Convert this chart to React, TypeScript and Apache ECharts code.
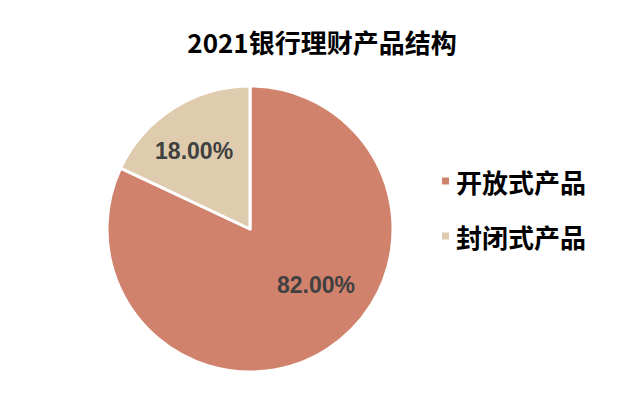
import { useEffect, useRef } from 'react';
import * as echarts from 'echarts';

const titleText = '2021银行理财产品结构';
const categories = ['开放式产品', '封闭式产品'];
const shares = [82, 18];
const colors = ['#D0826C', '#DFCCAE'];
// nudge of each inside label from its default spot, to sit where the original puts it
const labelNudges = [
  [26, -7],
  [-16, -15],
];

const App = () => {
  const chartRef = useRef<HTMLDivElement>(null);

  useEffect(() => {
    document.body.style.margin = '0';
    if (!chartRef.current) return;

    const chart = echarts.init(chartRef.current, null, { renderer: 'svg' });

    const option = {
      animation: false,
      backgroundColor: '#ffffff',
      title: {
        text: titleText,
        left: 'center',
        top: 23,
        textStyle: {
          fontFamily: 'Noto Sans CJK SC',
          fontSize: 26,
          fontWeight: 'bold',
          color: '#000000',
        },
      },
      legend: {
        orient: 'vertical',
        left: 435,
        top: 163,
        icon: 'rect',
        itemWidth: 9,
        itemHeight: 9,
        itemGap: 29,
        data: categories,
        textStyle: {
          fontFamily: 'Noto Sans CJK SC',
          fontSize: 26,
          fontWeight: 'bold',
          color: '#000000',
          padding: [0, 0, 0, 1],
        },
      },
      series: [
        {
          type: 'pie',
          center: [250, 229],
          radius: 143,
          startAngle: 90,
          clockwise: true,
          itemStyle: {
            borderColor: '#ffffff',
            borderWidth: 3,
          },
          label: {
            show: true,
            position: 'inside',
            formatter: (p: any) => `${p.value.toFixed(2)}%`,
            fontFamily: 'Liberation Sans',
            fontSize: 23,
            fontWeight: 'bold',
            color: '#404040',
          },
          labelLayout: (p: any) => ({
            dx: labelNudges[p.dataIndex][0],
            dy: labelNudges[p.dataIndex][1],
          }),
          emphasis: { disabled: true },
          data: categories.map((name, i) => ({
            name,
            value: shares[i],
            itemStyle: { color: colors[i] },
          })),
        },
      ],
    };

    chart.setOption(option);

    return () => {
      chart.dispose();
    };
  }, []);

  return <div ref={chartRef} style={{ width: '644px', height: '414px' }} />;
};

export default App;
